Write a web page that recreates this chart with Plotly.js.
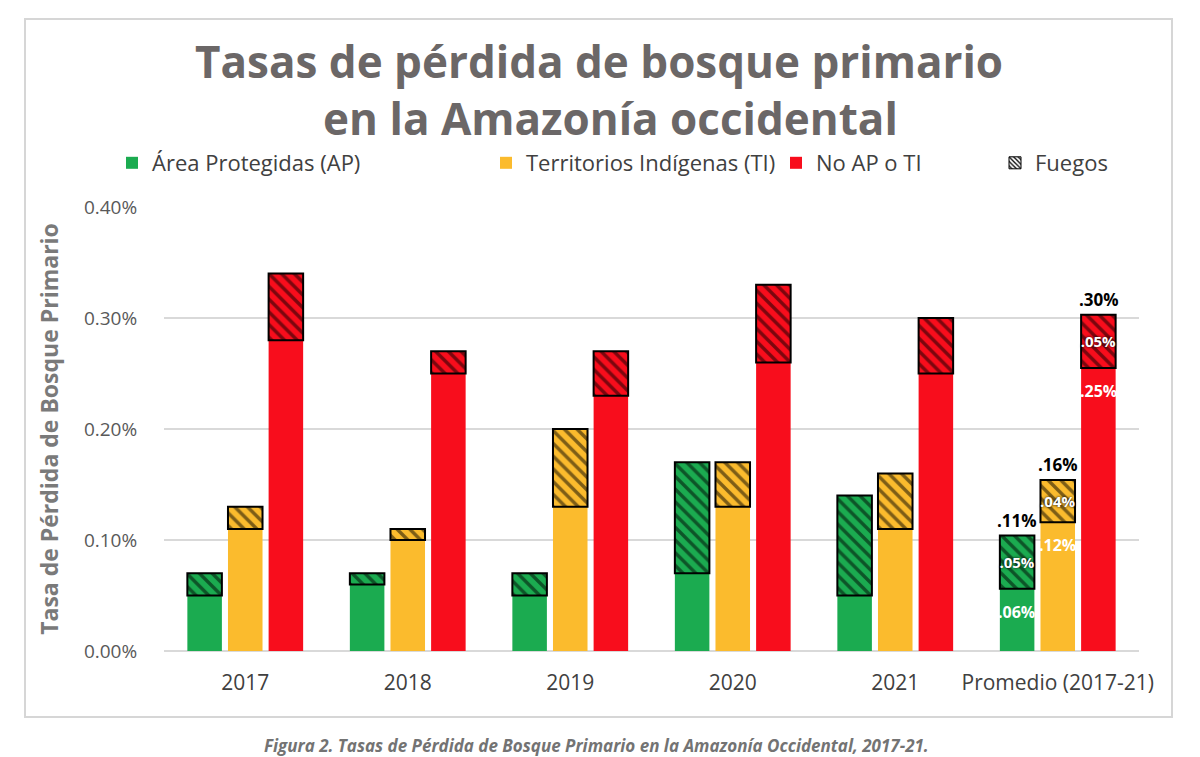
<!DOCTYPE html>
<html>
<head>
<meta charset="utf-8">
<script src="https://cdn.plot.ly/plotly-3.0.1.min.js"></script>
<style>
  html, body { margin: 0; padding: 0; background: #ffffff; }
  #chart { width: 1200px; height: 757px; }
</style>
</head>
<body>
<div id="chart"></div>
<script>
// ---- Data (percent units) ----
const categories = ['2017', '2018', '2019', '2020', '2021', 'Promedio (2017-21)'];
const apBase = [0.05, 0.06, 0.05, 0.07, 0.05, 0.056];
const apFire = [0.02, 0.01, 0.02, 0.10, 0.09, 0.048];
const tiBase = [0.11, 0.10, 0.13, 0.13, 0.11, 0.116];
const tiFire = [0.02, 0.01, 0.07, 0.04, 0.05, 0.038];
const noBase = [0.28, 0.25, 0.23, 0.26, 0.25, 0.255];
const noFire = [0.06, 0.02, 0.04, 0.07, 0.05, 0.048];

const yTickVals = [0, 0.1, 0.2, 0.3, 0.4];
const yTickText = ['0.00%', '0.10%', '0.20%', '0.30%', '0.40%'];

// labels shown on the "Promedio" group: AP, TI, No AP o TI
const baseLabels = ['.06%', '.12%', '.25%'];
const fireLabels = ['.05%', '.04%', '.05%'];
const totalLabels = ['.11%', '.16%', '.30%'];

const seriesNames = ['Área Protegidas (AP)', 'Territorios Indígenas (TI)', 'No AP o TI', 'Fuegos'];

const GREEN = '#1bab50';
const YELLOW = '#fbbb2d';
const RED = '#f80d1c';
const FONT = 'Open Sans, sans-serif';

function baseTrace(name, y, color, group, legendId) {
  return {
    type: 'bar', name: name, x: categories, y: y,
    offsetgroup: group, legend: legendId,
    marker: { color: color, line: { width: 0 } },
    hoverinfo: 'x+y'
  };
}
function fireTrace(y, base, color, group, label) {
  const text = categories.map((c, i) => (i === categories.length - 1 ? label : ''));
  return {
    type: 'bar', name: 'Fuegos', x: categories, y: y, base: base,
    offsetgroup: group, showlegend: false,
    marker: {
      color: color,
      line: { color: '#000000', width: 2 },
      pattern: { shape: '\\', fgcolor: '#000000', bgcolor: color, size: 9, solidity: 0.38, fillmode: 'overlay' }
    },
    text: text, textposition: 'inside', insidetextanchor: 'middle', textangle: 0,
    constraintext: 'none',
    textfont: { family: FONT, size: 15, color: '#ffffff', weight: 'bold', shadow: '0px 0px 3px #000000' },
    hoverinfo: 'x+y'
  };
}

const traces = [
  baseTrace(seriesNames[0], apBase, GREEN, 'ap', 'legend'),
  baseTrace(seriesNames[1], tiBase, YELLOW, 'ti', 'legend2'),
  baseTrace(seriesNames[2], noBase, RED, 'no', 'legend3'),
  fireTrace(apFire, apBase, GREEN, 'ap', fireLabels[0]),
  fireTrace(tiFire, tiBase, YELLOW, 'ti', fireLabels[1]),
  fireTrace(noFire, noBase, RED, 'no', fireLabels[2]),
  {
    type: 'bar', name: seriesNames[3], x: [categories[0]], y: [null],
    offsetgroup: 'ap', legend: 'legend4', showlegend: true,
    marker: {
      color: '#ffffff', line: { color: '#000000', width: 1 },
      pattern: { shape: '\\', fgcolor: '#000000', bgcolor: '#ffffff', size: 4, solidity: 0.4 }
    },
    hoverinfo: 'skip'
  }
];

// plot area geometry helpers (for frame / text placement in paper units)
const L = 164, R = 61, T = 207, B = 106, W = 1200, H = 757;
const PW = W - L - R, PH = H - T - B;
const px = v => (v - L) / PW;
const py = v => (H - B - v) / PH;

const lastCat = categories[categories.length - 1];
const n = categories.length - 1;
const bases = [apBase[n], tiBase[n], noBase[n]];
const totals = [apBase[n] + apFire[n], tiBase[n] + tiFire[n], noBase[n] + noFire[n]];
const shifts = [-41, 0, 41];

const annotations = [
  { text: '<b>Tasas de pérdida de bosque primario<br>&nbsp;&nbsp;en la Amazonía occidental</b>',
    xref: 'paper', yref: 'paper', x: px(599), y: py(89), xanchor: 'center', yanchor: 'middle',
    align: 'center', showarrow: false,
    font: { family: FONT, size: 44, color: '#6b6767' } },
  { text: '<b><i>Figura 2. Tasas de Pérdida de Bosque Primario en la Amazonía Occidental, 2017-21.</i></b>',
    xref: 'paper', yref: 'paper', x: px(596), y: py(745), xanchor: 'center', yanchor: 'middle',
    showarrow: false, font: { family: FONT, size: 17, color: '#737373' } }
];
totals.forEach((t, i) => {
  annotations.push({
    text: '<b>' + totalLabels[i] + '</b>', x: lastCat, y: t, xref: 'x', yref: 'y',
    xshift: shifts[i], yshift: 2, yanchor: 'bottom', xanchor: 'center', showarrow: false,
    font: { family: FONT, size: 17, color: '#000000' }
  });
  annotations.push({
    text: '<b>' + baseLabels[i] + '</b>', x: lastCat, y: bases[i], xref: 'x', yref: 'y',
    xshift: shifts[i], yshift: -10, yanchor: 'top', xanchor: 'center', showarrow: false,
    font: { family: FONT, size: 16, color: '#ffffff' }
  });
});

const legendCommon = {
  orientation: 'h', xref: 'paper', yref: 'paper', yanchor: 'middle', xanchor: 'left',
  bgcolor: 'rgba(0,0,0,0)', borderwidth: 0, itemwidth: 30,
  font: { family: FONT, size: 22, color: '#404040' }
};

const layout = {
  width: W, height: H,
  paper_bgcolor: '#ffffff', plot_bgcolor: '#ffffff',
  margin: { l: L, r: R, t: T, b: B },
  barmode: 'group', bargap: 0.25, bargroupgap: 0.15,
  font: { family: FONT },
  xaxis: {
    type: 'category', showgrid: false, zeroline: false, showline: false,
    ticks: 'outside', ticklen: 13, tickcolor: 'rgba(0,0,0,0)',
    tickfont: { family: FONT, size: 21, color: '#404040' }, fixedrange: true
  },
  yaxis: {
    range: [0, 0.4], tickmode: 'array', tickvals: yTickVals, ticktext: yTickText,
    showgrid: true, gridcolor: '#d9d9d9', gridwidth: 1.5,
    zeroline: true, zerolinecolor: '#d9d9d9', zerolinewidth: 1.5, showline: false,
    ticks: 'outside', ticklen: 22, tickcolor: 'rgba(0,0,0,0)',
    tickfont: { family: FONT, size: 19, color: '#595959' },
    title: { text: '<b>Tasa de Pérdida de Bosque Primario</b>', standoff: 18,
             font: { family: FONT, size: 23, color: '#7a7a7a' } },
    fixedrange: true
  },
  legend: Object.assign({}, legendCommon, { x: px(112), y: py(163) }),
  legend2: Object.assign({}, legendCommon, { x: px(486), y: py(163) }),
  legend3: Object.assign({}, legendCommon, { x: px(776), y: py(163) }),
  legend4: Object.assign({}, legendCommon, { x: px(995), y: py(163) }),
  shapes: [
    { type: 'rect', xref: 'paper', yref: 'paper', x0: px(25), x1: px(1172), y0: py(717), y1: py(19),
      line: { color: '#d6d6d6', width: 2 }, fillcolor: 'rgba(0,0,0,0)', layer: 'below' }
  ],
  annotations: annotations,
  showlegend: true
};

Plotly.newPlot('chart', traces, layout, { displayModeBar: false, staticPlot: false });
</script>
</body>
</html>
